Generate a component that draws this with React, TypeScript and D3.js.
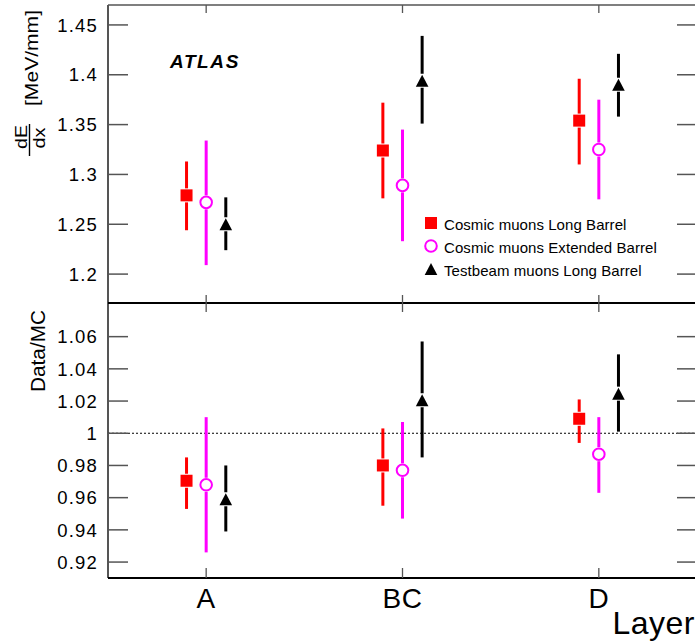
import React from "react";
import * as d3 from "d3";

const categories = ["A", "BC", "D"];
const seriesNames = ["Cosmic muons Long Barrel", "Cosmic muons Extended Barrel", "Testbeam muons Long Barrel"];

// top panel: dE/dx [MeV/mm]
const topLBVal = [1.279, 1.324, 1.354];
const topLBLo = [1.244, 1.276, 1.31];
const topLBHi = [1.313, 1.372, 1.396];
const topEBVal = [1.272, 1.289, 1.325];
const topEBLo = [1.209, 1.233, 1.275];
const topEBHi = [1.334, 1.345, 1.375];
const topTBVal = [1.25, 1.394, 1.39];
const topTBLo = [1.224, 1.351, 1.358];
const topTBHi = [1.277, 1.439, 1.421];

// bottom panel: Data/MC
const botLBVal = [0.9705, 0.98, 1.009];
const botLBLo = [0.953, 0.955, 0.994];
const botLBHi = [0.985, 1.003, 1.021];
const botEBVal = [0.968, 0.977, 0.987];
const botEBLo = [0.926, 0.947, 0.963];
const botEBHi = [1.01, 1.007, 1.01];
const botTBVal = [0.959, 1.0205, 1.0246];
const botTBLo = [0.939, 0.985, 1.001];
const botTBHi = [0.98, 1.057, 1.049];

const topTicks = [1.2, 1.25, 1.3, 1.35, 1.4, 1.45];
const topTickLabels = ["1.2", "1.25", "1.3", "1.35", "1.4", "1.45"];
const botTicks = [0.92, 0.94, 0.96, 0.98, 1, 1.02, 1.04, 1.06];
const botTickLabels = ["0.92", "0.94", "0.96", "0.98", "1", "1.02", "1.04", "1.06"];

const FONT = "'Liberation Sans', Arial, Helvetica, sans-serif";
const colors = ["#ff0000", "#ff00ff", "#000000"];
const offsets = [-0.1, 0, 0.1];

const L = 108, R = 697, TOP = 5, MID = 303, BOT = 578;

function Marker({ kind, cx, cy }: { kind: number; cx: number; cy: number }) {
  if (kind === 0) return <rect x={cx - 6} y={cy - 6} width={12} height={12} fill={colors[0]} />;
  if (kind === 1) return <circle cx={cx} cy={cy} r={5.8} fill="#fff" stroke={colors[1]} strokeWidth={2} />;
  return <path d={`M${cx},${cy - 6}L${cx + 6.3},${cy + 6}L${cx - 6.3},${cy + 6}Z`} fill="#000" />;
}

function Panel({ y, vals, los, his }: { y: d3.ScaleLinear<number, number>; vals: number[][]; los: number[][]; his: number[][] }) {
  const x = d3.scaleLinear().domain([0.5, 3.5]).range([L, R]);
  const gap = 7;
  return (
    <g>
      {vals.map((sv, s) =>
        sv.map((v, i) => {
          const cx = x(i + 1 + offsets[s]);
          const cy = y(v);
          return (
            <g key={`${s}-${i}`}>
              <line x1={cx} x2={cx} y1={y(his[s][i])} y2={cy - gap} stroke={colors[s]} strokeWidth={3} />
              <line x1={cx} x2={cx} y1={cy + gap} y2={y(los[s][i])} stroke={colors[s]} strokeWidth={3} />
              <Marker kind={s} cx={cx} cy={cy} />
            </g>
          );
        })
      )}
    </g>
  );
}

export default function App() {
  const x = d3.scaleLinear().domain([0.5, 3.5]).range([L, R]);
  const yTop = d3.scaleLinear().domain([1.171, 1.47]).range([MID, TOP]);
  const yBot = d3.scaleLinear().domain([0.9101, 1.0809]).range([BOT, MID]);
  const tickCol = "#555";

  return (
    <svg width={695} height={642} style={{ position: "absolute", left: 0, top: 0, background: "#fff" }} fontFamily={FONT}>
      <rect x={0} y={0} width={695} height={642} fill="#fff" />
      {/* frame lines */}
      <line x1={L} x2={R} y1={TOP} y2={TOP} stroke={tickCol} strokeWidth={1.5} />
      <line x1={L} x2={L} y1={TOP} y2={BOT} stroke={tickCol} strokeWidth={2} />
      <line x1={L} x2={R} y1={MID} y2={MID} stroke="#000" strokeWidth={2} />
      <line x1={L} x2={R} y1={BOT} y2={BOT} stroke="#000" strokeWidth={2.2} />

      {/* x ticks */}
      {categories.map((c, i) => (
        <g key={c}>
          <line x1={x(i + 1)} x2={x(i + 1)} y1={TOP} y2={TOP + 8} stroke={tickCol} strokeWidth={1.3} />
          <line x1={x(i + 1)} x2={x(i + 1)} y1={MID - 8} y2={MID} stroke={tickCol} strokeWidth={1.3} />
          <line x1={x(i + 1)} x2={x(i + 1)} y1={MID} y2={MID + 9} stroke={tickCol} strokeWidth={1.3} />
          <line x1={x(i + 1)} x2={x(i + 1)} y1={BOT - 10} y2={BOT} stroke={tickCol} strokeWidth={1.3} />
          <text x={x(i + 1)} y={608} textAnchor="middle" fontSize={28} letterSpacing={0.5}>{c}</text>
        </g>
      ))}
      <text x={695} y={634} textAnchor="end" fontSize={32} letterSpacing={0.5}>Layer</text>

      {/* dotted line at 1 */}
      <line x1={L} x2={R} y1={yBot(1)} y2={yBot(1)} stroke="#000" strokeWidth={1} strokeDasharray="2,2" />

      {/* y ticks top */}
      {topTicks.map((t, i) => (
        <g key={`tt${i}`}>
          <line x1={L} x2={L + 20} y1={yTop(t)} y2={yTop(t)} stroke={tickCol} strokeWidth={1.5} />
          <line x1={R - 20} x2={R} y1={yTop(t)} y2={yTop(t)} stroke={tickCol} strokeWidth={1.5} />
          <text x={98} y={yTop(t)} dy="0.36em" textAnchor="end" fontSize={18.5} letterSpacing={1.2}>{topTickLabels[i]}</text>
        </g>
      ))}
      {/* y ticks bottom */}
      {botTicks.map((t, i) => (
        <g key={`bt${i}`}>
          <line x1={L} x2={L + 20} y1={yBot(t)} y2={yBot(t)} stroke={tickCol} strokeWidth={1.5} />
          <line x1={R - 20} x2={R} y1={yBot(t)} y2={yBot(t)} stroke={tickCol} strokeWidth={1.5} />
          <text x={98} y={yBot(t)} dy="0.36em" textAnchor="end" fontSize={18.5} letterSpacing={1.2}>{botTickLabels[i]}</text>
        </g>
      ))}

      {/* y titles */}
      <g transform="translate(38,58) rotate(-90)">
        <text x={0} y={0} textAnchor="middle" fontSize={19} textLength={96} lengthAdjust="spacingAndGlyphs">[MeV/mm]</text>
      </g>
      <g transform="translate(27,137) rotate(-90)">
        <text x={0} y={0} textAnchor="middle" fontSize={17} textLength={24} lengthAdjust="spacingAndGlyphs">dE</text>
      </g>
      <line x1={29.5} x2={29.5} y1={124} y2={156} stroke="#000" strokeWidth={1.4} />
      <g transform="translate(45,138) rotate(-90)">
        <text x={0} y={0} textAnchor="middle" fontSize={17} textLength={21} lengthAdjust="spacingAndGlyphs">dx</text>
      </g>
      <g transform="translate(45,351) rotate(-90)">
        <text x={0} y={0} textAnchor="middle" fontSize={21} textLength={82} lengthAdjust="spacingAndGlyphs">Data/MC</text>
      </g>

      <text x={170} y={68} fontSize={19} fontWeight="bold" fontStyle="italic" letterSpacing={1.6}>ATLAS</text>

      <Panel y={yTop} vals={[topLBVal, topEBVal, topTBVal]} los={[topLBLo, topEBLo, topTBLo]} his={[topLBHi, topEBHi, topTBHi]} />
      <Panel y={yBot} vals={[botLBVal, botEBVal, botTBVal]} los={[botLBLo, botEBLo, botTBLo]} his={[botLBHi, botEBHi, botTBHi]} />

      {/* legend */}
      {seriesNames.map((n, i) => {
        const cy = 223 + i * 23;
        return (
          <g key={n}>
            <Marker kind={i} cx={431} cy={cy} />
            <text x={444} y={cy + 6.5} fontSize={15} textLength={n.length * 7.6} lengthAdjust="spacing">{n}</text>
          </g>
        );
      })}
    </svg>
  );
}
